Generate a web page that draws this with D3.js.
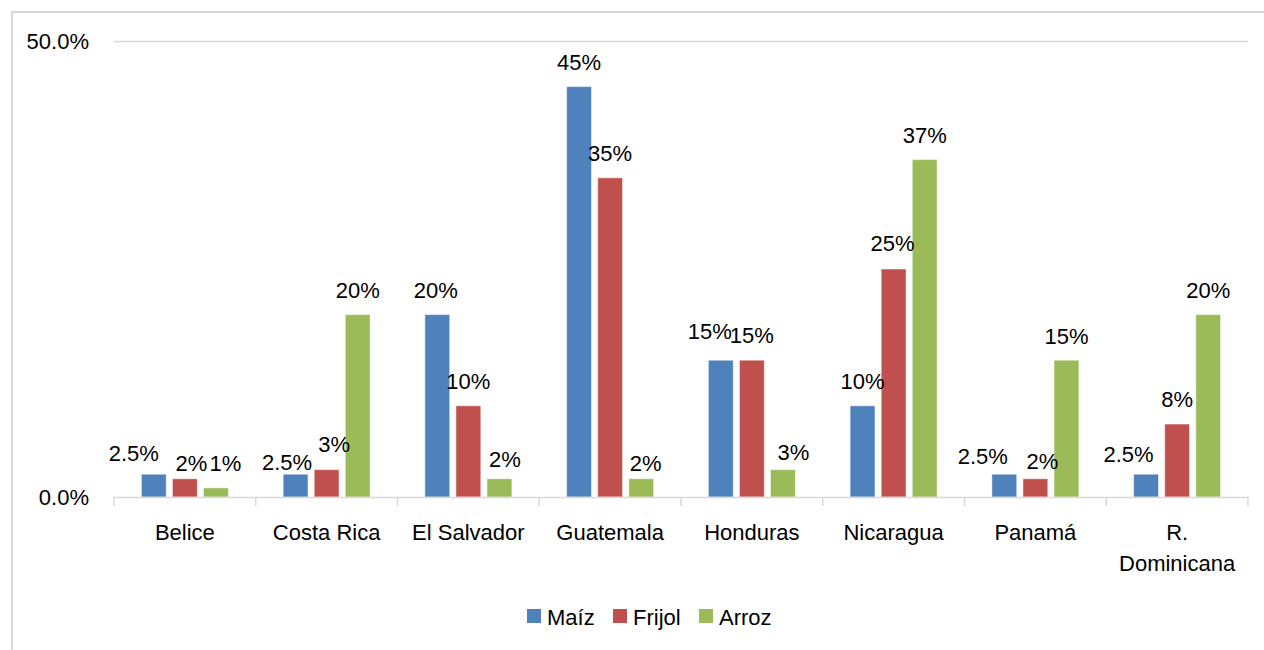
<!DOCTYPE html>
<html>
<head>
<meta charset="utf-8">
<script src="https://cdn.jsdelivr.net/npm/d3@7"></script>
<style>
  body { margin: 0; background: #fff; }
  svg text { font-family: "Liberation Sans", Arial, sans-serif; fill: #000; }
</style>
</head>
<body>
<svg id="chart" width="1264" height="650"></svg>
<script>
// datos
const paises = ["Belice", "Costa Rica", "El Salvador", "Guatemala", "Honduras", "Nicaragua", "Panamá", "R. Dominicana"];
const series = ["Maíz", "Frijol", "Arroz"];
const maiz = [2.5, 2.5, 20, 45, 15, 10, 2.5, 2.5];
const frijol = [2, 3, 10, 35, 15, 25, 2, 8];
const arroz = [1, 20, 2, 2, 3, 37, 15, 20];
const yTicks = [0, 50];

const valores = { "Maíz": maiz, "Frijol": frijol, "Arroz": arroz };
const colores = { "Maíz": "#4F81BD", "Frijol": "#C0504D", "Arroz": "#9BBB59" };

// etiquetas movidas a mano en el original (dx, dy)
const labelNudge = {
  "Belice|Maíz": [-20, 4], "Belice|Frijol": [6.5, 9], "Belice|Arroz": [9.5, 0],
  "Costa Rica|Maíz": [-8.5, 13], "Costa Rica|Frijol": [7.5, -1],
  "El Salvador|Maíz": [-1.5, 0], "El Salvador|Arroz": [5.5, 5],
  "Guatemala|Arroz": [4.5, 9.5],
  "Honduras|Maíz": [-11, -4], "Honduras|Arroz": [10.5, 7.5],
  "Nicaragua|Frijol": [-1, -1],
  "Panamá|Maíz": [-21.5, 7], "Panamá|Frijol": [7, 7.5], "Panamá|Arroz": [0, 1],
  "R. Dominicana|Maíz": [-17.5, 4.5]
};

const svg = d3.select("#chart");
const fontSize = 22;

// marco exterior
svg.append("rect")
  .attr("x", 12).attr("y", 12)
  .attr("width", 1270).attr("height", 660)
  .attr("fill", "none")
  .attr("stroke", "#d9d9d9")
  .attr("stroke-width", 2);

const plotLeft = 114, plotRight = 1248, plotTop = 41, plotBottom = 497;

const x0 = d3.scaleBand().domain(paises).range([plotLeft, plotRight]).padding(0);
const x1 = d3.scaleBand().domain(series).range([0, 87]).paddingInner(0.2).paddingOuter(0);
const y = d3.scaleLinear().domain([0, 50]).range([plotBottom, plotTop]);

// lineas de cuadricula
svg.append("g")
  .selectAll("line")
  .data(yTicks.filter((t) => t > 0))
  .join("line")
  .attr("x1", plotLeft).attr("x2", plotRight)
  .attr("y1", (d) => y(d) + 0.5).attr("y2", (d) => y(d) + 0.5)
  .attr("stroke", "#d9d9d9")
  .attr("stroke-width", 1.5);

// eje Y (solo etiquetas)
svg.append("g")
  .selectAll("text")
  .data(yTicks)
  .join("text")
  .attr("x", 89)
  .attr("y", (d) => y(d))
  .attr("dy", "0.36em")
  .attr("text-anchor", "end")
  .attr("font-size", fontSize)
  .text((d) => d.toFixed(1) + "%");

// barras
const groups = svg.append("g")
  .selectAll("g")
  .data(paises)
  .join("g")
  .attr("transform", (d) => "translate(" + (x0(d) + x0.bandwidth() / 2 - 43.5) + ",0)");

groups.selectAll("rect")
  .data((p, i) => series.map((s) => ({ pais: p, serie: s, valor: valores[s][i] })))
  .join("rect")
  .attr("x", (d) => x1(d.serie))
  .attr("y", (d) => y(d.valor))
  .attr("width", x1.bandwidth())
  .attr("height", (d) => y(0) - y(d.valor))
  .attr("fill", (d) => colores[d.serie])
  .attr("stroke", "#fff")
  .attr("stroke-opacity", 0.5)
  .attr("stroke-width", 1);

// etiquetas de datos
groups.selectAll("text")
  .data((p, i) => series.map((s) => ({ pais: p, serie: s, valor: valores[s][i] })))
  .join("text")
  .attr("x", (d) => x1(d.serie) + x1.bandwidth() / 2 + (labelNudge[d.pais + "|" + d.serie] || [0, 0])[0])
  .attr("y", (d) => y(d.valor) - 17 + (labelNudge[d.pais + "|" + d.serie] || [0, 0])[1])
  .attr("text-anchor", "middle")
  .attr("font-size", fontSize)
  .text((d) => (Number.isInteger(d.valor) ? d.valor : d.valor.toFixed(1)) + "%");

// eje X
const xAxis = svg.append("g");
xAxis.append("line")
  .attr("x1", plotLeft).attr("x2", plotRight)
  .attr("y1", plotBottom + 0.5).attr("y2", plotBottom + 0.5)
  .attr("stroke", "#d9d9d9")
  .attr("stroke-width", 1.5);

xAxis.selectAll(".tick")
  .data(paises.map((p) => x0(p)).concat([plotRight]))
  .join("line")
  .attr("class", "tick")
  .attr("x1", (d) => d).attr("x2", (d) => d)
  .attr("y1", plotBottom).attr("y2", plotBottom + 9)
  .attr("stroke", "#d9d9d9")
  .attr("stroke-width", 1.5);

// nombres de paises (se parte "R. Dominicana" en dos lineas)
xAxis.selectAll("text")
  .data(paises)
  .join("text")
  .attr("x", (d) => x0(d) + x0.bandwidth() / 2)
  .attr("y", 540)
  .attr("text-anchor", "middle")
  .attr("font-size", fontSize)
  .each(function (d) {
    const words = d.length > 12 ? d.split(" ") : [d];
    d3.select(this).selectAll("tspan")
      .data(words)
      .join("tspan")
      .attr("x", x0(d) + x0.bandwidth() / 2)
      .attr("dy", (w, i) => (i === 0 ? 0 : 30.5))
      .text((w) => w);
  });

// leyenda
const legendX = [527, 613, 699];
const legend = svg.append("g")
  .selectAll("g")
  .data(series)
  .join("g")
  .attr("transform", (d, i) => "translate(" + legendX[i] + ",609)");

legend.append("rect")
  .attr("width", 14).attr("height", 14)
  .attr("fill", (d) => colores[d]);

legend.append("text")
  .attr("x", 20)
  .attr("y", 16)
  .attr("font-size", fontSize)
  .text((d) => d);
</script>
</body>
</html>
